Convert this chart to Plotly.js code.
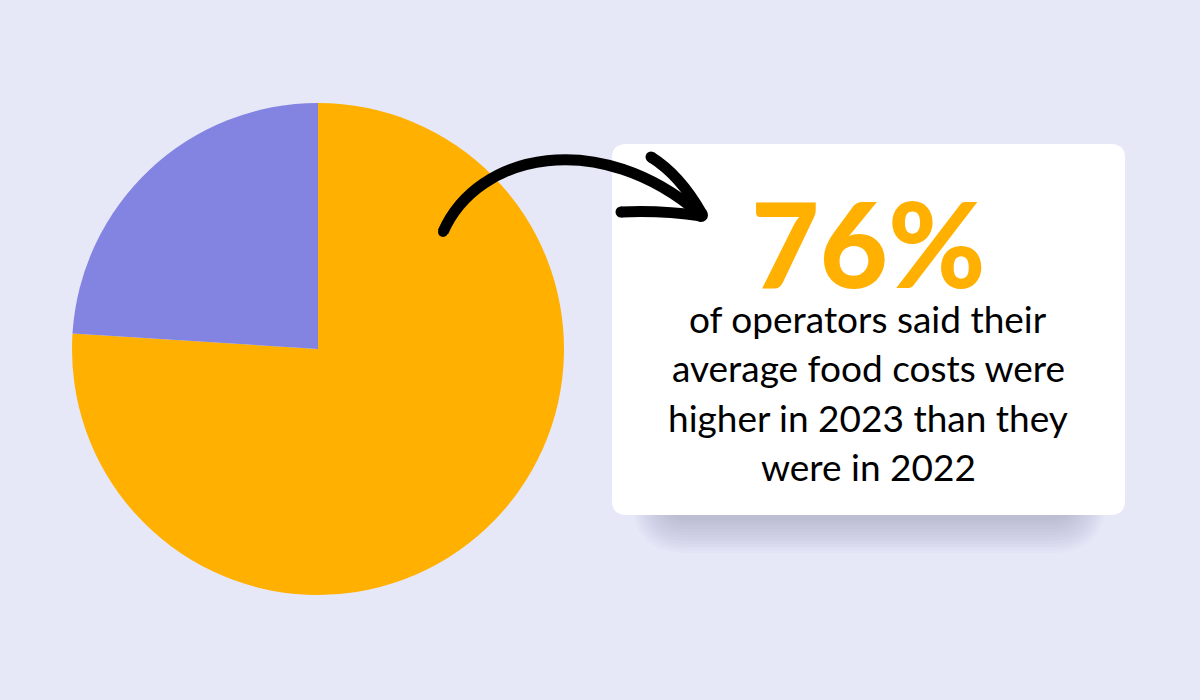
<!DOCTYPE html>
<html>
<head>
<meta charset="utf-8">
<script src="https://cdn.plot.ly/plotly-3.0.1.min.js"></script>
<style>
html,body{margin:0;padding:0;background:#E6E7F7;}
#chart{width:1200px;height:700px;}
</style>
</head>
<body>
<div id="chart"></div>
<script>
// Data
const labels = ["Higher food costs in 2023", "Not higher"];
const values = [76, 24];
const colors = ["#FFB000", "#8383E2"];
const headline = "76%";
const bodyLines = ["of operators said their", "average food costs were", "higher in 2023 than they", "were in 2022"];

const W = 1200, H = 700;
const px = x => x / W;
const py = y => 1 - y / H;
function pathFrom(cmds) {
  return cmds.map(c => c[0] + ' ' + c.slice(1).map((v, i) => (i % 2 === 0 ? px(v) : py(v)).toFixed(5)).join(',')).join(' ');
}
function roundRect(x0, y0, x1, y1, r) {
  return pathFrom([
    ['M', x0 + r, y0], ['L', x1 - r, y0], ['Q', x1, y0, x1, y0 + r],
    ['L', x1, y1 - r], ['Q', x1, y1, x1 - r, y1], ['L', x0 + r, y1],
    ['Q', x0, y1, x0, y1 - r], ['L', x0, y0 + r], ['Q', x0, y0, x0 + r, y0]
  ]) + ' Z';
}

const shapes = [];
// shadow layers
for (let k = 0; k < 12; k++) {
  const e = k * 3;
  shapes.push({
    type: 'path', xref: 'paper', yref: 'paper', layer: 'below',
    path: roundRect(665 - e, 200 - e, 1073 + e, 520 + e, 22 + e),
    fillcolor: 'rgba(70,70,120,0.024)', line: {width: 0}
  });
}
// white box
shapes.push({
  type: 'path', xref: 'paper', yref: 'paper', layer: 'below',
  path: roundRect(612, 144, 1125, 515, 14),
  fillcolor: '#FFFFFF', line: {width: 0}
});
// arrow
const arrowLine = {color: '#000000', width: 11};
shapes.push({
  type: 'path', xref: 'paper', yref: 'paper', layer: 'above',
  path: pathFrom([['M', 443, 232], ['C', 478, 152, 600, 128, 700, 214]]),
  line: arrowLine
});
shapes.push({
  type: 'path', xref: 'paper', yref: 'paper', layer: 'above',
  path: pathFrom([['M', 651, 157], ['Q', 680, 175, 702, 214]]),
  line: arrowLine
});
shapes.push({
  type: 'path', xref: 'paper', yref: 'paper', layer: 'above',
  path: pathFrom([['M', 621, 212], ['Q', 660, 210, 702, 216]]),
  line: arrowLine
});
// round caps
[[443, 232, 5], [651, 157, 5.5], [621, 212, 5.5], [701, 215, 7]].forEach(c => {
  shapes.push({
    type: 'circle', xref: 'paper', yref: 'paper', layer: 'above',
    x0: px(c[0] - c[2]), x1: px(c[0] + c[2]), y0: py(c[1] + c[2]), y1: py(c[1] - c[2]),
    fillcolor: '#000000', line: {width: 0}
  });
});

const annotations = [
  {text: headline, x: px(868), y: py(242), xref: 'paper', yref: 'paper',
   showarrow: false, xanchor: 'center', yanchor: 'middle', height: 108,
   font: {family: 'Lato', size: 118, weight: 900, color: '#FFB000'}}
];
const lineY = [318, 367, 417, 466];
bodyLines.forEach((t, i) => {
  annotations.push({text: t, x: px(868), y: py(lineY[i]), xref: 'paper', yref: 'paper',
    showarrow: false, xanchor: 'center', yanchor: 'middle', height: 46,
    font: {family: 'Lato', size: 37, color: '#000000'}});
});

const data = [{
  type: 'pie', labels: labels, values: values, sort: false, direction: 'clockwise',
  rotation: 0, marker: {colors: colors, line: {width: 0}}, textinfo: 'none',
  hoverinfo: 'skip', showlegend: false,
  domain: {x: [px(72), px(564)], y: [py(595), py(103)]}
}];

const layout = {
  width: W, height: H, margin: {l: 0, r: 0, t: 0, b: 0},
  paper_bgcolor: '#E6E7F7', plot_bgcolor: '#E6E7F7',
  showlegend: false, shapes: shapes, annotations: annotations
};
Plotly.newPlot('chart', data, layout, {staticPlot: true, displayModeBar: false});
</script>
</body>
</html>
